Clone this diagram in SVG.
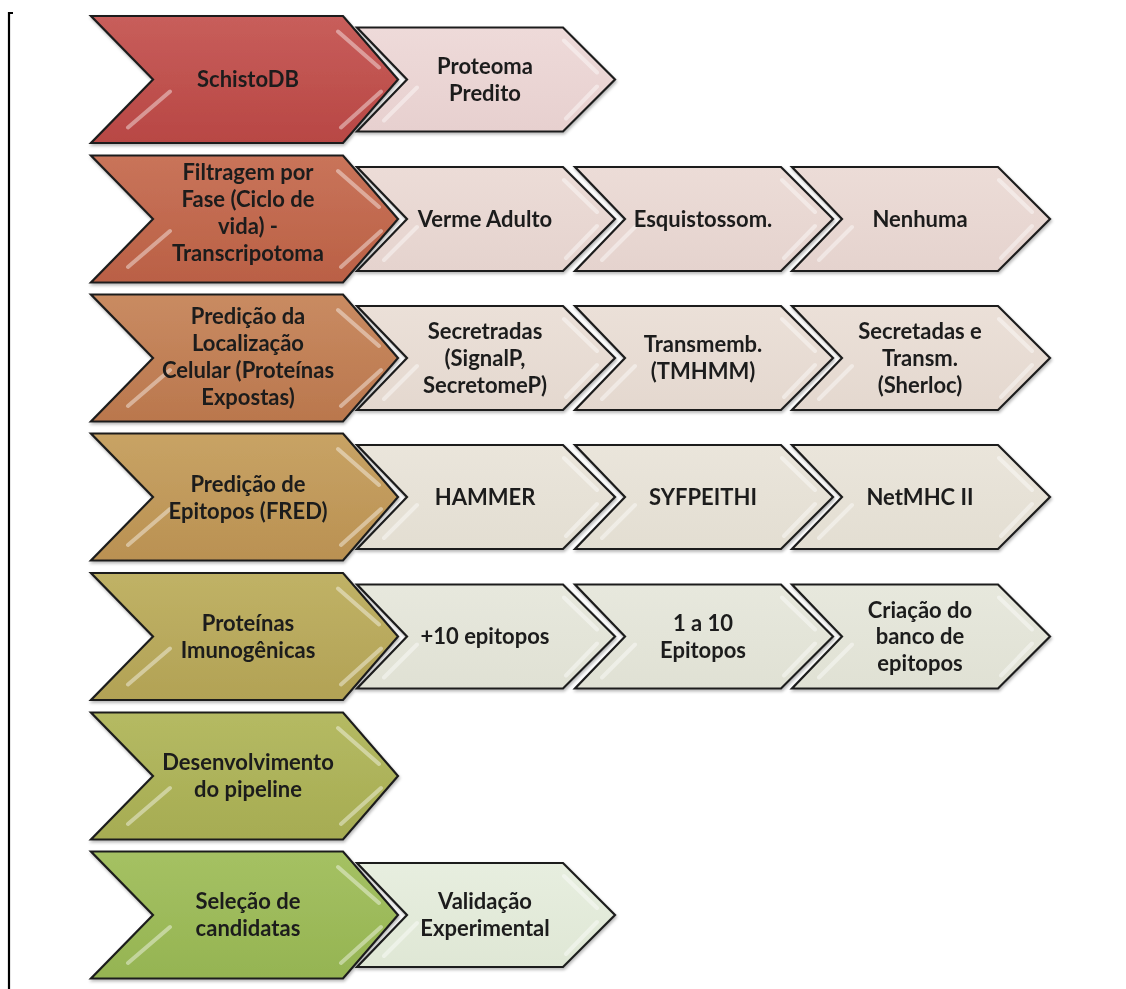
<svg xmlns="http://www.w3.org/2000/svg" xmlns:xlink="http://www.w3.org/1999/xlink" width="1126" height="989" viewBox="0 0 1126 989">
<style>
.ol{stroke:#1e1e1e;stroke-width:2.2;stroke-linejoin:miter}
.hl{stroke:#ffffff;stroke-opacity:0.42;stroke-width:4;stroke-linecap:round;fill:none}
text{font-family:Lato,"Open Sans","DejaVu Sans",sans-serif;font-weight:bold;font-size:22px;fill:#1c1c1c;text-anchor:middle}
</style>
<defs>
<filter id="sh" x="-5%" y="-5%" width="110%" height="115%">
<feDropShadow dx="1" dy="2" stdDeviation="1.5" flood-color="#000" flood-opacity="0.28"/>
</filter>
<g id="main">
<path class="ol" d="M91,-63.5 L343,-63.5 L398,0 L343,63.5 L91,63.5 L153,0 Z"/>
<path class="hl" d="M170,12 L128,48 M381,12 L341,48 M338,-48 L379,-12"/>
</g>
<g id="sec">
<path class="ol" d="M0,-52 L206,-52 L258,0 L206,52 L0,52 L50,0 Z"/>
<path class="hl" d="M60,8 L27,41 M240,7 L209,39 M207,-39 L240,-7"/>
</g>
<linearGradient id="m1" x1="0" y1="0" x2="0" y2="1"><stop offset="0" stop-color="#C85E5B"/><stop offset="1" stop-color="#B84744"/></linearGradient>
<linearGradient id="m2" x1="0" y1="0" x2="0" y2="1"><stop offset="0" stop-color="#C9745A"/><stop offset="1" stop-color="#BA6045"/></linearGradient>
<linearGradient id="m3" x1="0" y1="0" x2="0" y2="1"><stop offset="0" stop-color="#C98B62"/><stop offset="1" stop-color="#BA774D"/></linearGradient>
<linearGradient id="m4" x1="0" y1="0" x2="0" y2="1"><stop offset="0" stop-color="#C8A365"/><stop offset="1" stop-color="#BA9152"/></linearGradient>
<linearGradient id="m5" x1="0" y1="0" x2="0" y2="1"><stop offset="0" stop-color="#C0B266"/><stop offset="1" stop-color="#B2A255"/></linearGradient>
<linearGradient id="m6" x1="0" y1="0" x2="0" y2="1"><stop offset="0" stop-color="#B5BA63"/><stop offset="1" stop-color="#A6AC52"/></linearGradient>
<linearGradient id="m7" x1="0" y1="0" x2="0" y2="1"><stop offset="0" stop-color="#A5C163"/><stop offset="1" stop-color="#95B452"/></linearGradient>
<linearGradient id="s1" x1="0" y1="0" x2="0" y2="1"><stop offset="0" stop-color="#EEDAD9"/><stop offset="1" stop-color="#E7D0CF"/></linearGradient>
<linearGradient id="s2" x1="0" y1="0" x2="0" y2="1"><stop offset="0" stop-color="#ECDCD7"/><stop offset="1" stop-color="#E5D3CE"/></linearGradient>
<linearGradient id="s3" x1="0" y1="0" x2="0" y2="1"><stop offset="0" stop-color="#EBE0D8"/><stop offset="1" stop-color="#E4D8CF"/></linearGradient>
<linearGradient id="s4" x1="0" y1="0" x2="0" y2="1"><stop offset="0" stop-color="#EAE5DB"/><stop offset="1" stop-color="#E3DED2"/></linearGradient>
<linearGradient id="s5" x1="0" y1="0" x2="0" y2="1"><stop offset="0" stop-color="#E7E8DD"/><stop offset="1" stop-color="#E0E1D4"/></linearGradient>
<linearGradient id="s7" x1="0" y1="0" x2="0" y2="1"><stop offset="0" stop-color="#E7EEDF"/><stop offset="1" stop-color="#DFE7D5"/></linearGradient>
</defs>
<rect width="1126" height="989" fill="#ffffff"/>
<path d="M13,13 L9,13 L9,989" fill="none" stroke="#000" stroke-width="2.2"/>
<g id="connectors"/>

<g id="row1-main" filter="url(#sh)"><use href="#main" y="79.5" fill="url(#m1)"/><text x="248" y="87">SchistoDB</text></g>
<g id="row1-s1" filter="url(#sh)"><use href="#sec" x="357" y="79.5" fill="url(#s1)"/><text x="485" y="73.5">Proteoma</text><text x="485" y="100.5">Predito</text></g>

<g id="row2-main" filter="url(#sh)"><use href="#main" y="219" fill="url(#m2)"/><text x="248" y="180">Filtragem por</text><text x="248" y="207">Fase (Ciclo de</text><text x="248" y="234">vida) -</text><text x="248" y="261">Transcripotoma</text></g>
<g id="row2-s1" filter="url(#sh)"><use href="#sec" x="357" y="219" fill="url(#s2)"/><text x="485" y="226.5">Verme Adulto</text></g>
<g id="row2-s2" filter="url(#sh)"><use href="#sec" x="575" y="219" fill="url(#s2)"/><text x="703" y="226.5">Esquistossom.</text></g>
<g id="row2-s3" filter="url(#sh)"><use href="#sec" x="792" y="219" fill="url(#s2)"/><text x="920" y="226.5">Nenhuma</text></g>

<g id="row3-main" filter="url(#sh)"><use href="#main" y="358" fill="url(#m3)"/><text x="248" y="324">Predição da</text><text x="248" y="351">Localização</text><text x="248" y="378">Celular (Proteínas</text><text x="248" y="405">Expostas)</text></g>
<g id="row3-s1" filter="url(#sh)"><use href="#sec" x="357" y="358" fill="url(#s3)"/><text x="485" y="339">Secretradas</text><text x="485" y="366">(SignalP,</text><text x="485" y="393">SecretomeP)</text></g>
<g id="row3-s2" filter="url(#sh)"><use href="#sec" x="575" y="358" fill="url(#s3)"/><text x="703" y="352">Transmemb.</text><text x="703" y="379">(TMHMM)</text></g>
<g id="row3-s3" filter="url(#sh)"><use href="#sec" x="792" y="358" fill="url(#s3)"/><text x="920" y="339">Secretadas e</text><text x="920" y="366">Transm.</text><text x="920" y="393">(Sherloc)</text></g>

<g id="row4-main" filter="url(#sh)"><use href="#main" y="497" fill="url(#m4)"/><text x="248" y="491.5">Predição de</text><text x="248" y="519">Epitopos (FRED)</text></g>
<g id="row4-s1" filter="url(#sh)"><use href="#sec" x="357" y="497" fill="url(#s4)"/><text x="485" y="504.5">HAMMER</text></g>
<g id="row4-s2" filter="url(#sh)"><use href="#sec" x="575" y="497" fill="url(#s4)"/><text x="703" y="504.5">SYFPEITHI</text></g>
<g id="row4-s3" filter="url(#sh)"><use href="#sec" x="792" y="497" fill="url(#s4)"/><text x="920" y="504.5">NetMHC II</text></g>

<g id="row5-main" filter="url(#sh)"><use href="#main" y="636.5" fill="url(#m5)"/><text x="248" y="630.5">Proteínas</text><text x="248" y="657.5">Imunogênicas</text></g>
<g id="row5-s1" filter="url(#sh)"><use href="#sec" x="357" y="636.5" fill="url(#s5)"/><text x="485" y="644">+10 epitopos</text></g>
<g id="row5-s2" filter="url(#sh)"><use href="#sec" x="575" y="636.5" fill="url(#s5)"/><text x="703" y="630.5">1 a 10</text><text x="703" y="657.5">Epitopos</text></g>
<g id="row5-s3" filter="url(#sh)"><use href="#sec" x="792" y="636.5" fill="url(#s5)"/><text x="920" y="617.5">Criação do</text><text x="920" y="644">banco de</text><text x="920" y="670.5">epitopos</text></g>

<g id="row6-main" filter="url(#sh)"><use href="#main" y="776" fill="url(#m6)"/><text x="248" y="770">Desenvolvimento</text><text x="248" y="797">do pipeline</text></g>

<g id="row7-main" filter="url(#sh)"><use href="#main" y="915" fill="url(#m7)"/><text x="248" y="909">Seleção de</text><text x="248" y="936">candidatas</text></g>
<g id="row7-s1" filter="url(#sh)"><use href="#sec" x="357" y="915" fill="url(#s7)"/><text x="485" y="909">Validação</text><text x="485" y="936">Experimental</text></g>
</svg>
